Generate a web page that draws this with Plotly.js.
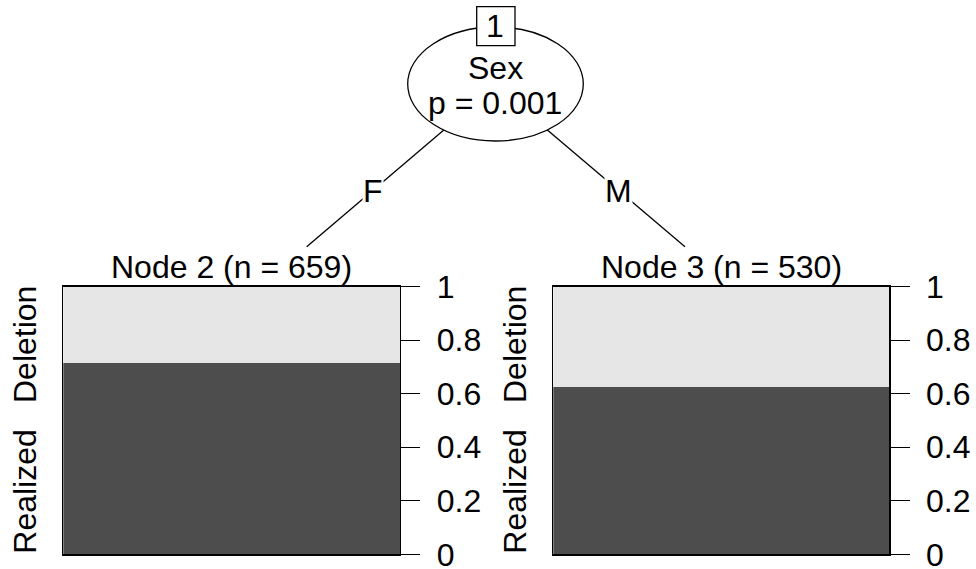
<!DOCTYPE html>
<html>
<head>
<meta charset="utf-8">
<script src="https://cdn.plot.ly/plotly-3.0.1.min.js"></script>
<style>html,body{margin:0;padding:0;background:#fff;}#chart{width:976px;height:569px;}</style>
</head>
<body>
<div id="chart"></div>
<script>
// ---- data ----
var nodeIds = [2, 3];
var nodeN = [659, 530];
var classes = ["Realized", "Deletion"];
var realized = [0.714, 0.625];
var deletion = [0.286, 0.375];
var classColors = ["#4D4D4D", "#E6E6E6"];
var tickVals = [0, 0.2, 0.4, 0.6, 0.8, 1];
var tickText = ["0", "0.2", "0.4", "0.6", "0.8", "1"];
var splitVar = "Sex";
var splitP = "p = 0.001";
var rootId = "1";
var edgeLabels = ["F", "M"];

// ---- layout helpers ----
var W = 976, H = 569;
function px(x) { return x / W; }
function py(y) { return 1 - y / H; }
var FONT = "Liberation Sans, Arial, Helvetica, sans-serif";
var FS = 32;
var LW = 1.3;

var panels = [
  {x0: 63.3, x1: 400, xa: "x", ya: "y", lblX: 25},
  {x0: 553.3, x1: 889.3, xa: "x2", ya: "y2", lblX: 515}
];
var barTop = 286.7, barBot = 554.3;

var traces = [];
var classVals = [realized, deletion];
panels.forEach(function (p, i) {
  classes.forEach(function (c, k) {
    traces.push({
      type: "bar", x: [0], y: [classVals[k][i]], width: [1],
      xaxis: p.xa, yaxis: p.ya, name: c, showlegend: false,
      marker: {color: classColors[k], line: {width: 0}},
      hoverinfo: "y+name"
    });
  });
});

function xAxis(p) {
  return {domain: [px(p.x0), px(p.x1)], range: [-0.5, 0.5], showticklabels: false,
    ticks: "", showgrid: false, zeroline: false, showline: true, mirror: true,
    linecolor: "#000", linewidth: LW, fixedrange: true};
}
function yAxis(p, anchor) {
  return {domain: [py(barBot), py(barTop)], range: [0, 1], side: "right", anchor: anchor,
    tickvals: tickVals, ticktext: tickText, ticks: "outside", ticklen: 19,
    tickwidth: LW, tickcolor: "#000", showgrid: false, zeroline: false,
    showline: true, mirror: true, linecolor: "#000", linewidth: LW,
    ticklabeloverflow: "allow",
    tickfont: {family: FONT, size: FS, color: "#000"}, ticklabelstandoff: 10, fixedrange: true};
}

var annotations = [];
var shapes = [];

panels.forEach(function (p, i) {
  annotations.push({xref: "paper", yref: "paper", x: px((p.x0 + p.x1) / 2), y: py(267),
    text: "Node " + nodeIds[i] + " (n = " + nodeN[i] + ")", showarrow: false,
    xanchor: "center", yanchor: "middle", font: {family: FONT, size: FS, color: "#000"}});
  var lblY = [491.7, 345];
  classes.forEach(function (c, k) {
    annotations.push({xref: "paper", yref: "paper", x: px(p.lblX), y: py(lblY[k]),
      text: c, showarrow: false, textangle: -90, xanchor: "center", yanchor: "middle",
      font: {family: FONT, size: FS, color: "#000"}});
  });
});

// tree edges
var cx = 495.5, cy = 86;
shapes.push({type: "line", xref: "paper", yref: "paper", x0: px(cx), y0: py(cy), x1: px(306.7), y1: py(246.7), line: {color: "#000", width: LW}});
shapes.push({type: "line", xref: "paper", yref: "paper", x0: px(cx), y0: py(cy), x1: px(685), y1: py(246.7), line: {color: "#000", width: LW}});
// root ellipse
shapes.push({type: "circle", xref: "paper", yref: "paper", x0: px(407.7), x1: px(583.3), y0: py(141), y1: py(27), fillcolor: "#fff", line: {color: "#000", width: LW}});
// id box
shapes.push({type: "rect", xref: "paper", yref: "paper", x0: px(476.7), x1: px(515), y0: py(45.7), y1: py(6.7), fillcolor: "#fff", line: {color: "#000", width: LW}});

annotations.push({xref: "paper", yref: "paper", x: px(cx), y: py(26), text: rootId, showarrow: false, xanchor: "center", yanchor: "middle", font: {family: FONT, size: FS, color: "#000"}});
annotations.push({xref: "paper", yref: "paper", x: px(cx), y: py(68), text: splitVar, showarrow: false, xanchor: "center", yanchor: "middle", font: {family: FONT, size: FS, color: "#000"}});
annotations.push({xref: "paper", yref: "paper", x: px(cx), y: py(103), text: splitP, showarrow: false, xanchor: "center", yanchor: "middle", font: {family: FONT, size: FS, color: "#000"}});
var edgePos = [[372.5, 191.5], [618, 191.5]];
edgeLabels.forEach(function (t, i) {
  annotations.push({xref: "paper", yref: "paper", x: px(edgePos[i][0]), y: py(edgePos[i][1]), text: t, showarrow: false, xanchor: "center", yanchor: "middle", bgcolor: "#fff", borderpad: 0, font: {family: FONT, size: FS, color: "#000"}});
});

var layout = {
  width: W, height: H, margin: {l: 0, r: 0, t: 0, b: 0},
  paper_bgcolor: "#fff", plot_bgcolor: "#fff", barmode: "stack", bargap: 0,
  showlegend: false,
  xaxis: xAxis(panels[0]), yaxis: yAxis(panels[0], "x"),
  xaxis2: xAxis(panels[1]), yaxis2: yAxis(panels[1], "x2"),
  shapes: shapes, annotations: annotations
};

Plotly.newPlot("chart", traces, layout, {displayModeBar: false, staticPlot: true});
</script>
</body>
</html>
